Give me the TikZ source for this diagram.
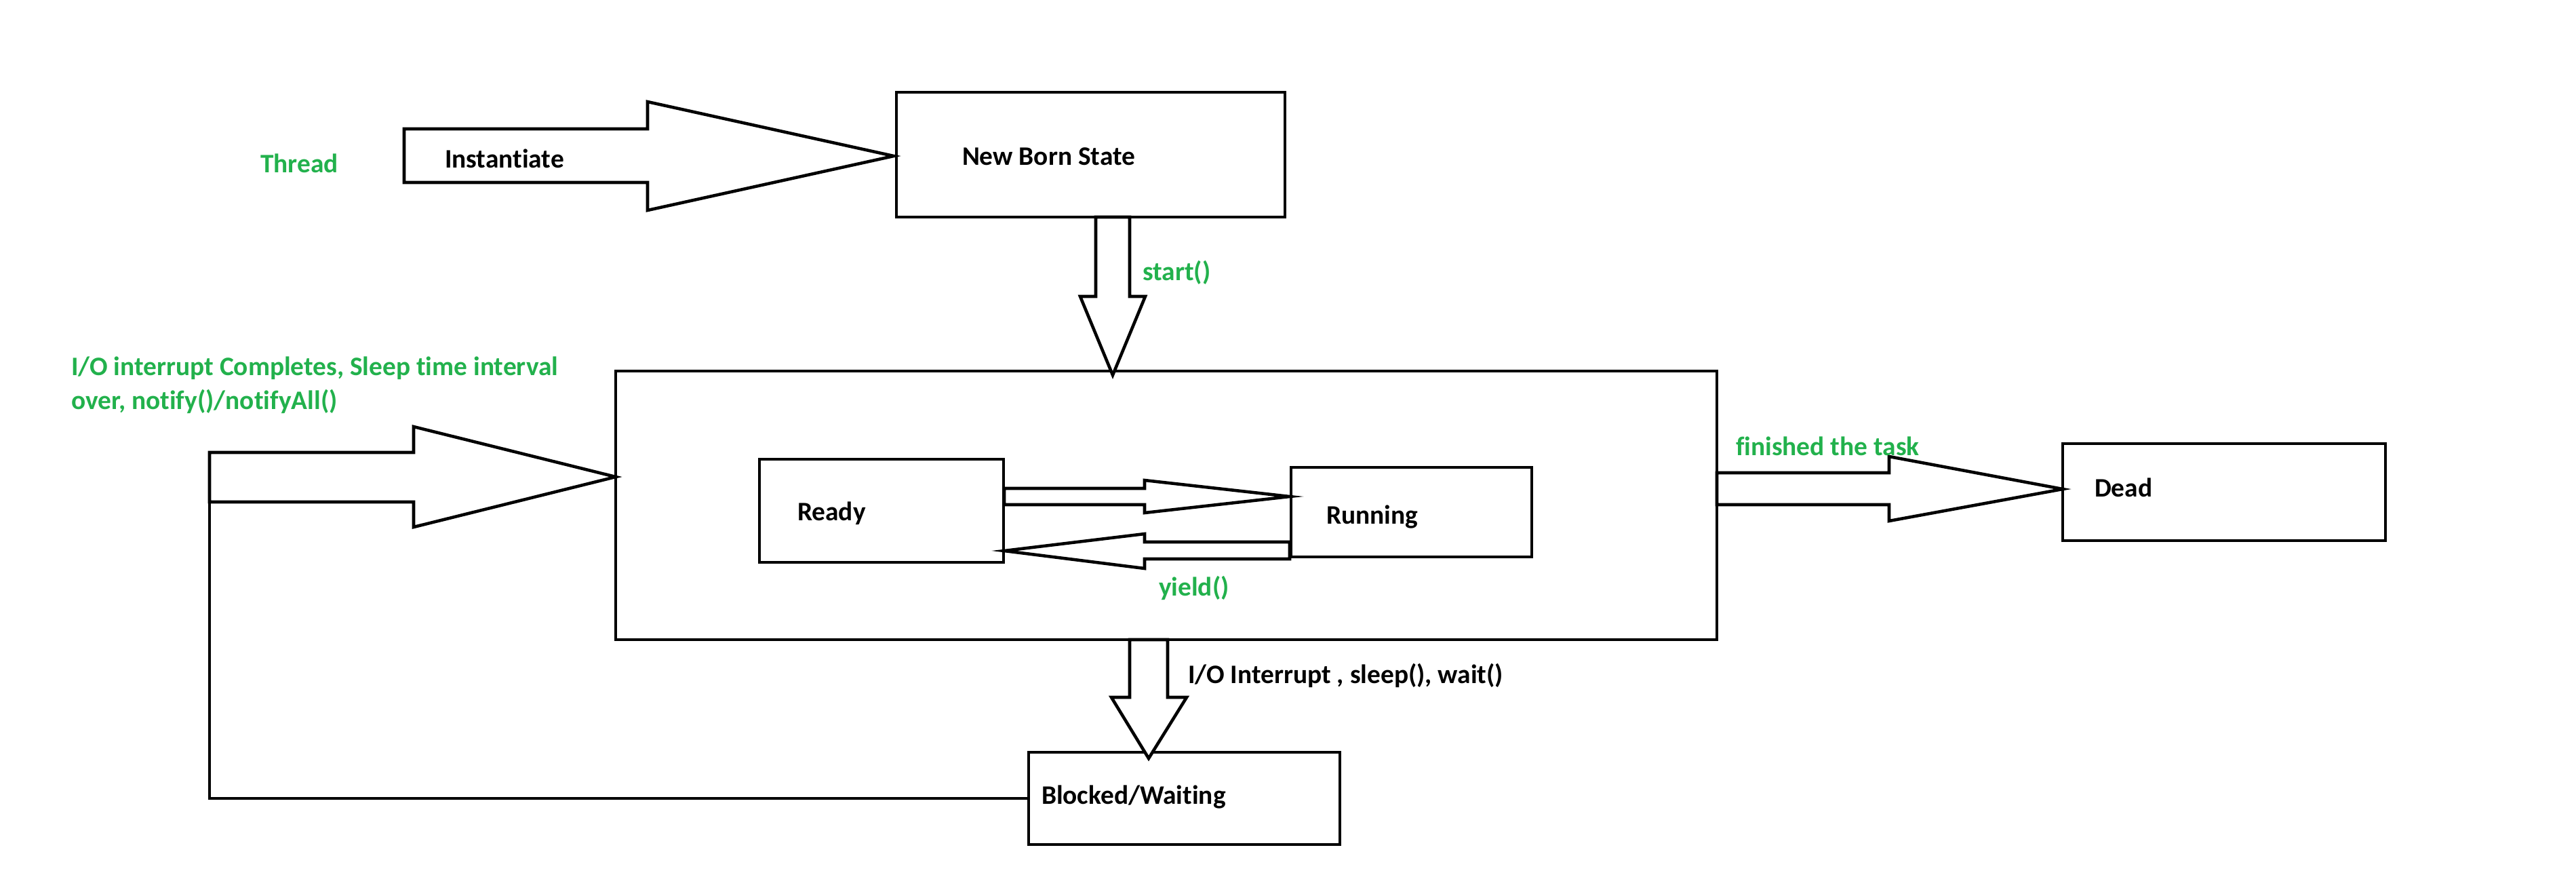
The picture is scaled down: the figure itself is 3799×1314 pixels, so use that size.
\documentclass[tikz,border=0pt]{standalone}
\usepackage{fontspec}
\setmainfont{Carlito}[Ligatures={NoCommon}]
\definecolor{pgreen}{RGB}{34,177,76}
\begin{document}
\begin{tikzpicture}[x=0.01cm,y=-0.01cm,
  every node/.style={font=\fontsize{11.2}{14.2}\selectfont\bfseries, inner sep=0pt, outer sep=0pt},
  box/.style={draw, line width=1.3pt, rectangle},
  blockarrow/.style={draw, fill=white, line width=1.3pt},
  lbl/.style={anchor=base west, text=black},
  glbl/.style={anchor=base west, text=pgreen},
  conn/.style={draw, line width=1.1pt}]
\useasboundingbox (0,0) rectangle (3799,1314);
% boxes
\node[box, minimum width=573*0.01cm, minimum height=184*0.01cm] (newborn) at (1608.5,228) {};
\node[box, minimum width=1624*0.01cm, minimum height=396*0.01cm] (main) at (1720,745) {};
\node[box, minimum width=360*0.01cm, minimum height=152*0.01cm] (ready) at (1300,753) {};
\node[box, minimum width=355*0.01cm, minimum height=132*0.01cm] (running) at (2081.5,755) {};
\node[box, minimum width=476*0.01cm, minimum height=143*0.01cm] (dead) at (3280,725.5) {};
\node[box, minimum width=459*0.01cm, minimum height=136*0.01cm] (blocked) at (1746.5,1177) {};
% block arrows
\draw[blockarrow] (596,190) -- (955,190) -- (955,150) -- (1318,230) -- (955,310) -- (955,269) -- (596,269) -- cycle;
\draw[blockarrow] (1616,320) -- (1616,437) -- (1593,437) -- (1641,553) -- (1689,437) -- (1666,437) -- (1666,320) -- cycle;
\draw[blockarrow] (1481,720) -- (1688,720) -- (1688,708) -- (1902,732) -- (1688,756) -- (1688,744) -- (1481,744) -- cycle;
\draw[blockarrow] (1902,799) -- (1688,799) -- (1688,787) -- (1481,812) -- (1688,838) -- (1688,824) -- (1902,824) -- cycle;
\draw[blockarrow] (2532,697) -- (2786,697) -- (2786,673) -- (3042,721) -- (2786,768) -- (2786,744) -- (2532,744) -- cycle;
\draw[blockarrow] (1666,943) -- (1666,1028) -- (1639,1028) -- (1694,1118) -- (1750,1028) -- (1722,1028) -- (1722,943) -- cycle;
\draw[blockarrow] (309,667) -- (610,667) -- (610,629) -- (908,703) -- (610,777) -- (610,740) -- (309,740) -- cycle;
\coordinate (backtail) at (309,740);
\draw[conn] (blocked.west) -| (backtail);
% labels
\node[glbl] (thread) at (384,254) {Thread};
\node[lbl] (inst) at (656,247) {Instantiate};
\node[lbl] (nbs) at (1419,243) {New Born State};
\node[glbl] (start) at (1685,413) {start()};
\node[glbl] (io1) at (105,553) {I/O interrupt Completes, Sleep time interval};
\node[glbl] (io2) at (105,603) {over, notify()/notifyAll()};
\node[glbl] (fin) at (2560,671) {finished the task};
\node[lbl] (readyt) at (1176,767) {Ready};
\node[lbl] (runt) at (1956,772) {Running};
\node[glbl] (yld) at (1709,878) {yield()};
\node[lbl] (iot) at (1752,1007) {I/O Interrupt , sleep(), wait()};
\node[lbl] (blkt) at (1536,1185) {Blocked/Waiting};
\node[lbl] (deadt) at (3089,732) {Dead};
\end{tikzpicture}
\end{document}
